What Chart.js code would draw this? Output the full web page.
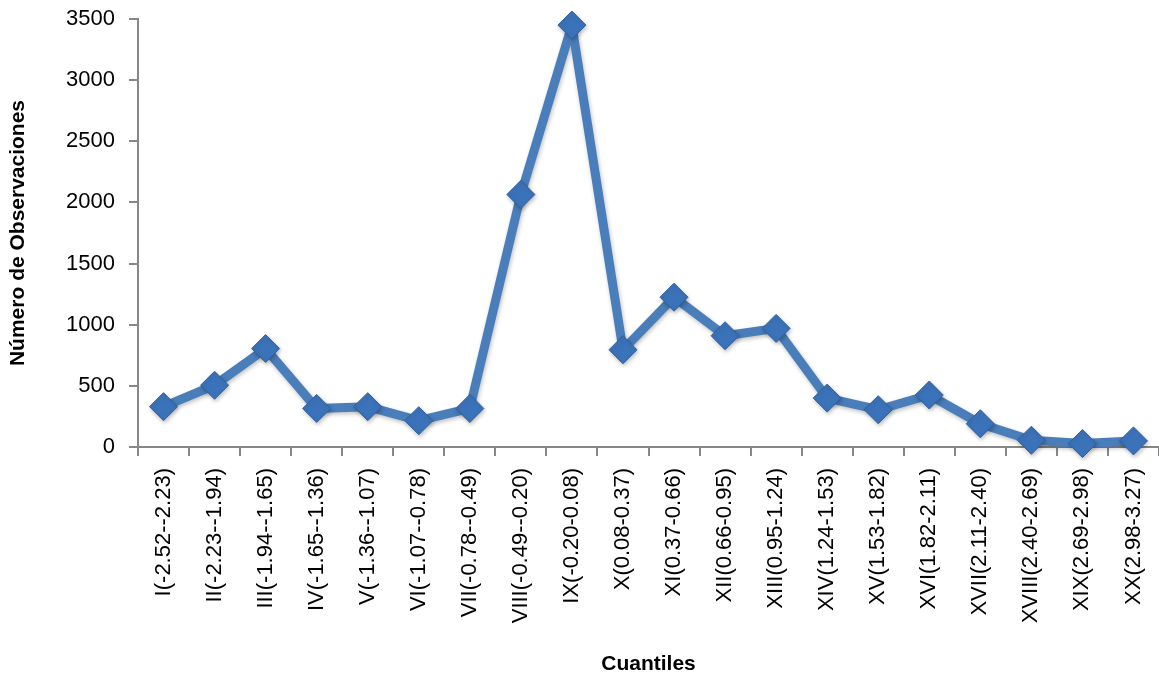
<!DOCTYPE html>
<html>
<head>
<meta charset="utf-8">
<script src="https://cdn.jsdelivr.net/npm/chart.js@4.4.1/dist/chart.umd.min.js"></script>
<style>
  html, body { margin: 0; padding: 0; background: #fff; }
  #wrap { width: 1159px; height: 681px; position: relative; }
</style>
</head>
<body>
<div id="wrap"><canvas id="quantileChart" width="1159" height="681"></canvas></div>
<script>
// Cuantiles (etiquetas del eje X)
const quantileLabels = [
  'I(-2.52--2.23)', 'II(-2.23--1.94)', 'III(-1.94--1.65)', 'IV(-1.65--1.36)',
  'V(-1.36--1.07)', 'VI(-1.07--0.78)', 'VII(-0.78--0.49)', 'VIII(-0.49--0.20)',
  'IX(-0.20-0.08)', 'X(0.08-0.37)', 'XI(0.37-0.66)', 'XII(0.66-0.95)',
  'XIII(0.95-1.24)', 'XIV(1.24-1.53)', 'XV(1.53-1.82)', 'XVI(1.82-2.11)',
  'XVII(2.11-2.40)', 'XVIII(2.40-2.69)', 'XIX(2.69-2.98)', 'XX(2.98-3.27)'
];

// Número de observaciones por cuantil
const observations = [
  330, 505, 805, 315, 330, 215, 315, 2065, 3450, 795,
  1225, 910, 970, 400, 305, 425, 190, 55, 28, 50
];

// Eje Y
const yMin = 0;
const yMax = 3500;
const yStep = 500;

const axisGray = '#878787';

const ctx = document.getElementById('quantileChart').getContext('2d');

const markerShadow = {
  id: 'markerShadow',
  beforeDatasetsDraw(chart) {
    const c = chart.ctx;
    c.save();
    c.shadowColor = 'rgba(0,0,0,0.25)';
    c.shadowBlur = 4;
    c.shadowOffsetX = 1;
    c.shadowOffsetY = 2;
  },
  afterDatasetsDraw(chart) {
    chart.ctx.restore();
  }
};

new Chart(ctx, {
  type: 'line',
  data: {
    labels: quantileLabels,
    datasets: [{
      data: observations,
      borderColor: '#4a7ebb',
      borderWidth: 9,
      borderJoinStyle: 'round',
      tension: 0,
      clip: false,
      pointStyle: 'rectRot',
      pointRadius: 14,
      pointHoverRadius: 14,
      pointBackgroundColor: '#3b73ba',
      pointBorderColor: '#2f5f9c',
      pointBorderWidth: 1
    }]
  },
  options: {
    responsive: false,
    animation: false,
    devicePixelRatio: 1,
    layout: { autoPadding: false, padding: { top: 19, right: 0, bottom: 0, left: 0 } },
    plugins: {
      legend: { display: false },
      tooltip: { enabled: false }
    },
    scales: {
      x: {
        offset: true,
        grid: {
          offset: true,
          drawOnChartArea: false,
          drawTicks: true,
          tickLength: 9,
          color: axisGray,
          lineWidth: 2
        },
        border: { color: axisGray, width: 2 },
        ticks: {
          autoSkip: false,
          maxRotation: 90,
          minRotation: 90,
          padding: 12,
          color: '#000',
          font: { family: 'Liberation Sans', size: 22 }
        },
        title: {
          display: true,
          text: 'Cuantiles',
          color: '#000',
          padding: { top: 4, bottom: 4 },
          font: { family: 'Liberation Sans', size: 21, weight: 'bold' }
        },
        afterFit(scale) {
          scale.height = 234;
          scale.paddingLeft = 0;
          scale.paddingRight = 0;
        }
      },
      y: {
        min: yMin,
        max: yMax,
        ticks: {
          stepSize: yStep,
          padding: 14,
          color: '#000',
          font: { family: 'Liberation Sans', size: 22 },
          callback: (v) => String(v)
        },
        grid: {
          drawOnChartArea: false,
          drawTicks: true,
          tickLength: 9,
          color: axisGray,
          lineWidth: 2
        },
        border: { color: axisGray, width: 2 },
        title: {
          display: true,
          text: 'Número de Observaciones',
          color: '#000',
          padding: { top: 6, bottom: 4 },
          font: { family: 'Liberation Sans', size: 21, weight: 'bold' }
        },
        afterFit(scale) {
          scale.width = 138;
          scale.paddingTop = 0;
          scale.paddingBottom = 0;
        }
      }
    }
  },
  plugins: [markerShadow]
});
</script>
</body>
</html>
